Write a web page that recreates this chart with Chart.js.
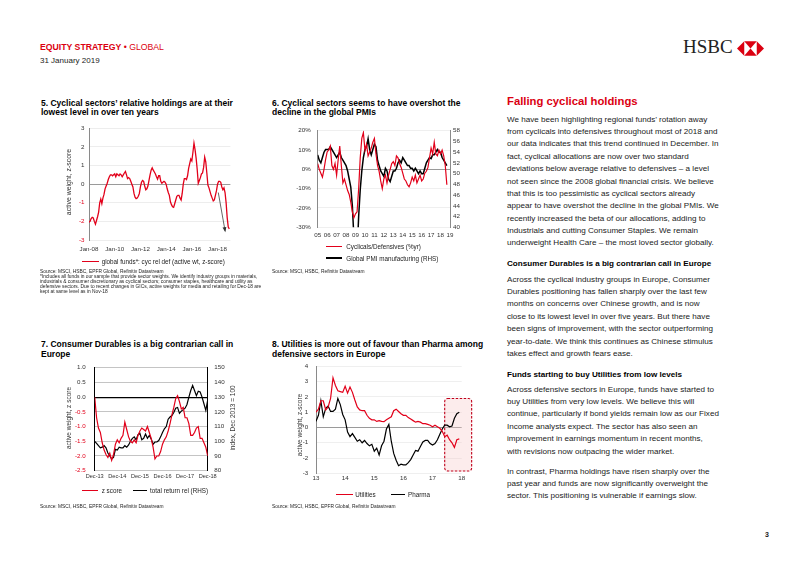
<!DOCTYPE html>
<html>
<head>
<meta charset="utf-8">
<script src="https://cdn.jsdelivr.net/npm/chart.js@4.4.0/dist/chart.umd.min.js"></script>
<style>
  body { margin: 0; width: 802px; height: 567px; position: relative; overflow: hidden; background: #fff;
         font-family: "Liberation Sans", Arial, sans-serif; color: #1a1a1a; }
  .abs { position: absolute; white-space: nowrap; }
  canvas { position: absolute; }
  .ctitle { font-weight: bold; font-size: 8.5px; line-height: 9.4px; color: #000; }
  .src { font-size: 4.85px; line-height: 4.9px; color: #222; }
  .leg { font-size: 6.3px; line-height: 7.5px; color: #222; }
  .ytitle { font-size: 6.5px; color: #333; transform: translate(-50%, -50%) rotate(-90deg); }
  .body { left: 507px; font-size: 8.1px; line-height: 12.35px; color: #222; }
  .sub { left: 507px; font-size: 8.1px; line-height: 12.35px; font-weight: bold; color: #000; }
</style>
</head>
<body>

<!-- Header -->
<div class="abs" style="left:40px;top:41.5px;font-size:8.7px;color:#db0011;"><b>EQUITY STRATEGY</b> &#8226; GLOBAL</div>
<div class="abs" style="left:40px;top:55.5px;font-size:8px;color:#222;">31 January 2019</div>
<div class="abs" style="left:683px;top:36px;font-family:'Liberation Serif','Times New Roman',serif;font-size:19px;color:#222;">HSBC</div>
<svg class="abs" style="left:737px;top:41px;" width="27" height="15" viewBox="0 0 26 14">
  <polygon points="0,7 7,0 7,14" fill="#db0011"/>
  <polygon points="26,7 19,0 19,14" fill="#db0011"/>
  <polygon points="7,0 19,0 13,7" fill="#db0011"/>
  <polygon points="7,14 19,14 13,7" fill="#db0011"/>
</svg>

<!-- Chart 5 -->
<div class="abs ctitle" style="left:41px;top:98.6px;">5. Cyclical sectors’ relative holdings are at their<br>lowest level in over ten years</div>
<canvas id="c5" width="180" height="135" style="left:60px;top:120px;width:180px;height:135px;"></canvas>
<div class="abs ytitle" style="left:68px;top:182px;font-size:6.9px;">active weight, z-score</div>
<div class="abs" style="left:81.7px;top:261px;width:17px;height:1.4px;background:#e2001a;"></div>
<div class="abs leg" style="left:101.7px;top:258px;">global funds*: cyc rel def (active wt, z-score)</div>
<div class="abs src" style="left:40px;top:270.3px;">Source: MSCI, HSBC, EPFR Global, Refinitiv Datastream<br>*Includes all funds in our sample that provide sector weights. We identify industry groups in materials,<br>industrials &amp; consumer discretionary as cyclical sectors; consumer staples, healthcare and utility as<br>defensive sectors. Due to recent changes in GICs, active weights for media and retailing for Dec-18 are<br>kept at same level as in Nov-18</div>

<!-- Chart 6 -->
<div class="abs ctitle" style="left:272px;top:98.6px;">6. Cyclical sectors seems to have overshot the<br>decline in the global PMIs</div>
<canvas id="c6" width="185" height="122" style="left:290px;top:120px;width:185px;height:122px;"></canvas>
<div class="abs" style="left:326.3px;top:246px;width:16px;height:1.4px;background:#e2001a;"></div>
<div class="abs leg" style="left:346.3px;top:243px;">Cyclicals/Defensives (%yr)</div>
<div class="abs" style="left:326.3px;top:257.3px;width:16px;height:2px;background:#000;"></div>
<div class="abs leg" style="left:346.3px;top:254.6px;">Global PMI manufacturing (RHS)</div>
<div class="abs src" style="left:272px;top:270.3px;">Source: MSCI, HSBC, Refinitiv Datastream</div>

<!-- Chart 7 -->
<div class="abs ctitle" style="left:41px;top:340.3px;">7. Consumer Durables is a big contrarian call in<br>Europe</div>
<canvas id="c7" width="160" height="130" style="left:72px;top:355px;width:160px;height:130px;"></canvas>
<div class="abs ytitle" style="left:67.5px;top:418px;">active weight, z score</div>
<div class="abs ytitle" style="left:231.7px;top:418px;">index, Dec 2013 = 100</div>
<div class="abs" style="left:81.7px;top:490px;width:16.6px;height:1.4px;background:#e2001a;"></div>
<div class="abs leg" style="left:101.7px;top:487px;">z score</div>
<div class="abs" style="left:133px;top:490px;width:13.7px;height:1.4px;background:#000;"></div>
<div class="abs leg" style="left:150px;top:487px;">total return rel (RHS)</div>
<div class="abs src" style="left:40px;top:505px;">Source: MSCI, HSBC, EPFR Global, Refinitiv Datastream</div>

<!-- Chart 8 -->
<div class="abs ctitle" style="left:272px;top:340.3px;">8. Utilities is more out of favour than Pharma among<br>defensive sectors in Europe</div>
<canvas id="c8" width="175" height="132" style="left:300px;top:355px;width:175px;height:132px;"></canvas>
<div class="abs ytitle" style="left:299px;top:425px;">active weight, z-score</div>
<div class="abs" style="left:336px;top:493.6px;width:17px;height:1.4px;background:#e2001a;"></div>
<div class="abs leg" style="left:355.3px;top:490.6px;">Utilities</div>
<div class="abs" style="left:391px;top:493.6px;width:13.7px;height:1.4px;background:#000;"></div>
<div class="abs leg" style="left:408px;top:490.6px;">Pharma</div>
<div class="abs src" style="left:272px;top:505.4px;">Source: MSCI, HSBC, EPFR Global, Refinitiv Datastream</div>

<!-- Text column -->
<div class="abs" style="left:507px;top:95px;font-size:11.3px;font-weight:bold;color:#db0011;">Falling cyclical holdings</div>
<div class="abs body" style="top:113.8px;">We have been highlighting regional funds’ rotation away<br>from cyclicals into defensives throughout most of 2018 and<br>our data indicates that this trend continued in December. In<br>fact, cyclical allocations are now over two standard<br>deviations below average relative to defensives – a level<br>not seen since the 2008 global financial crisis. We believe<br>that this is too pessimistic as cyclical sectors already<br>appear to have overshot the decline in the global PMIs. We<br>recently increased the beta of our allocations, adding to<br>Industrials and cutting Consumer Staples. We remain<br>underweight Health Care – the most loved sector globally.</div>
<div class="abs sub" style="top:258px;">Consumer Durables is a big contrarian call in Europe</div>
<div class="abs body" style="top:273.8px;">Across the cyclical industry groups in Europe, Consumer<br>Durables positioning has fallen sharply over the last few<br>months on concerns over Chinese growth, and is now<br>close to its lowest level in over five years. But there have<br>been signs of improvement, with the sector outperforming<br>year-to-date. We think this continues as Chinese stimulus<br>takes effect and growth fears ease.</div>
<div class="abs sub" style="top:368.8px;">Funds starting to buy Utilities from low levels</div>
<div class="abs body" style="top:383.8px;">Across defensive sectors in Europe, funds have started to<br>buy Utilities from very low levels. We believe this will<br>continue, particularly if bond yields remain low as our Fixed<br>Income analysts expect. The sector has also seen an<br>improvement in earnings momentum in recent months,<br>with revisions now outpacing the wider market.</div>
<div class="abs body" style="top:465.5px;">In contrast, Pharma holdings have risen sharply over the<br>past year and funds are now significantly overweight the<br>sector. This positioning is vulnerable if earnings slow.</div>

<div class="abs" style="left:765px;top:531px;font-size:7px;font-weight:bold;">3</div>

<script>
// Chart 5: global funds, cyclicals rel defensives, monthly Jan-08 .. Dec-18
const cycTickLabels = ['Jan-08', 'Jan-10', 'Jan-12', 'Jan-14', 'Jan-16', 'Jan-18'];
const cycRelDef = [
  -2.04, -2.0, -1.85, -1.78, -1.82, -2.0, -2.15, -1.95, -1.75, -1.5, -1.0, -0.8,
  -1.05, -0.75, -0.55, -0.25, -0.1, 0.05, 0.25, 0.4, 0.5, 0.5, 0.45, 0.5,
  0.55, 0.4, 0.55, 0.5, 0.45, 0.55, 0.5, 0.4, 0.5, 0.6, 0.68, 0.5,
  0.3, 0.35, 0.3, 0.15, 0.0, -0.15, -0.5, -0.7, -0.78, -0.75, -0.65, -0.5,
  -0.15, 0.1, 0.2, 0.15, -0.1, -0.3, -0.25, -0.1, 0.2, 0.5, 0.75, 0.88,
  0.75, 0.65, 0.55, 0.4, 0.27, 0.45, 0.45, 0.15, 0.05, 0.1, 0.15, 0.1,
  0.0, -0.25, -0.45, -0.6, -0.95, -1.1, -1.22, -1.25, -1.05, -0.85, -0.65, -0.6,
  -0.6, -0.75, -0.85, -0.5, 0.0, 0.3, 0.3, 0.25, 0.45, 0.85, 1.1, 1.35,
  1.25, 1.7, 2.2, 1.85, 1.4, 0.8, 0.05, 0.2, 0.35, 0.55, 0.6, 0.9,
  1.45, 1.2, 0.6, -0.05, -0.2, -0.4, -0.6, -0.75, -0.9, -0.85, -0.6, -0.35,
  0.0, 0.15, 0.15, 0.1, -0.15, -0.3, -0.2, -0.45, -1.0, -1.8, -2.3, -2.4
];
const cycArrow = { fromX: 120.7, fromY: -0.45, toX: 127, toY: -2.5 };

// Chart 6: cyclicals/defensives %yr and global PMI, every two months from Jan-05
const pmiYearLabels = ['05', '06', '07', '08', '09', '10', '11', '12', '13', '14', '15', '16', '17', '18', '19'];
const cycDefYoY = [
  3, 0, -2, -4, 0, 5, 9, 10, 12, 2, 0, 3,
  -3, 5, 12, 2, -7, -5, -8, -11, -13, -17, -22, -25,
  -23, -22, -10, 6, 16, 19, 10, 13, 7, 9, 11, 14,
  16, 8, 2, -1, -6, -10, -5, -3, -7, -3, 0, 3,
  4, 2, 7, 6, 3, 1, -2, -5, -6, -8, -9, -7,
  -4, -6, -3, -7, -5, -3, -6, -5, -2, -1, 1, 6,
  11, 8, 14, 8, 7, 10, 8, 10, 7, 2, -8
];
const globalPmi = [
  53.5, 52.5, 52, 53, 54, 54.5, 54.5, 54.5, 55, 54.5, 54, 53.5,
  53, 53.5, 54, 53, 52.5, 52, 51.5, 50.5, 49, 47.5, 44, 38,
  34, 35, 42, 47, 50.5, 53, 54.5, 55, 56.5, 54.5, 53.5, 54.5,
  55.5, 55, 52.5, 51.5, 50.5, 50, 49.5, 51, 50.5, 49, 48.5, 49.5,
  50.5, 50.5, 51, 52, 52.5, 52, 53, 52.5, 52, 51.5, 51.5, 51,
  51, 50.5, 51, 50.5, 50, 50.5, 50, 50, 51, 52, 52.5, 53,
  52.8, 53.5, 53.5, 54, 54.5, 54, 54, 53, 52.5, 52, 51.5
];

// Chart 7: Europe consumer durables, monthly Dec-13 .. Dec-18
const durTickLabels = ['Dec-13', 'Dec-14', 'Dec-15', 'Dec-16', 'Dec-17', 'Dec-18'];
const durZScore = [
  0.0, -0.7, -1.05, -1.2, -1.55, -1.8, -1.95, -2.05, -1.9, -2.15, -1.95, -1.6,
  -1.45, -1.55, -1.4, -1.3, -0.85, -1.1, -1.35, -1.5, -1.55, -1.45, -1.55, -1.3,
  -1.15, -1.05, -1.1, -1.15, -1.0, -1.2, -1.4, -1.7, -2.1, -2.0, -2.0, -1.85,
  -1.6, -1.45, -1.35, -1.15, -0.9, -0.6, -0.35, -0.05, 0.05, -0.15, -0.4, -0.35,
  -0.7, -0.7, -0.9, -1.3, -1.3, -1.2, -1.05, -1.0, -1.4, -1.4, -1.55, -1.7,
  -2.0
];
const durTotalReturn = [
  100, 98.5, 97, 95.5, 96, 97, 95.5, 92, 90, 88, 89, 94.5,
  94, 96, 95.5, 95.5, 97, 96, 97.5, 100, 102, 103, 101, 104.5,
  105.5, 101, 102, 105, 102, 104, 101.5, 98, 99.5, 99.5, 100.5, 103,
  106, 108.5, 110, 115, 116.5, 117.5, 119.5, 122.5, 123, 119, 120.5, 121.5,
  122.5, 125, 130, 134.5, 138, 134.5, 131, 134, 133.5, 130, 125.5, 121,
  128
];

// Chart 8: Europe defensives, monthly Jan-13 .. Dec-17
const defTickLabels = ['13', '14', '15', '16', '17', '18'];
const utilities = [
  1.0, 1.2, 1.75, 1.75, 1.15, 1.35, 1.9, 3.25, 2.75, 2.4, 2.35, 2.3,
  2.7, 2.25, 2.65, 2.3, 1.8, 1.35, 1.15, 1.1, 1.1, 0.8, 0.6, 0.5,
  0.5, 0.4, 0.45, 0.4, 0.38, 0.5, 0.6, 0.7, 1.1, 1.2, 1.05, 0.9,
  0.8, 0.8, 0.65, 0.55, 0.45, 0.35, 0.4, 0.35, 0.25, 0.25, 0.2, 0.15,
  0.05, 0.15, 0.05, -0.05, -0.25, -0.6, -0.5, -0.8, -1.0, -1.3, -0.8, -0.75
];
const pharma = [
  0.4, 0.8, 1.75, 0.7, 1.25, 1.4, 1.05, 1.05, 1.2, 1.9, 1.5, 0.85,
  0.5, -0.3, -0.6, -0.4, -0.65, -0.9, -0.8, -1.0, -0.85, -1.05, -1.2, -1.1,
  -1.55, -1.35, -1.8, -1.2, -0.9, -0.1, 0.2, -0.9, -1.7, -2.15, -2.5, -2.4,
  -2.45, -2.45, -2.3, -2.1, -1.8, -1.5, -1.55, -1.25, -0.95, -0.85, -0.85, -1.05,
  -1.15, -1.05, -0.8, -0.45, -0.1, 0.15, 0.15, 0.05, 0.1, 0.6, 0.9, 1.0
];
const defFocusBox = { fromX: 53, toX: 64.1, top: 1.9, bottom: -2.85 };

const RED = '#e2001a';
const FONT = { family: '"Liberation Sans", Arial, sans-serif', size: 6.2 };

const toPoints = (values, step) => values.map((v, i) => ({ x: i * step, y: v }));

// x axis with fixed tick positions and labels
const xAxis = (labels, step, min, max, height, padding, fontSize) => ({
  type: 'linear', min: min, max: max,
  afterBuildTicks: s => { s.ticks = labels.map((l, i) => ({ value: i * step })); },
  afterFit: s => { s.height = height; },
  grid: { display: false, drawTicks: false },
  border: { display: false },
  ticks: { font: Object.assign({}, FONT, { size: fontSize || FONT.size }), color: '#333',
           padding: padding, autoSkip: false, maxRotation: 0,
           callback: (v, i) => labels[i] }
});

const lineSet = (data, color, width, axis) => ({
  data: data, borderColor: color, borderWidth: width, pointRadius: 0, tension: 0,
  fill: false, yAxisID: axis || 'y'
});

const baseOptions = padding => ({
  responsive: false, animation: false, devicePixelRatio: 1,
  layout: { padding: padding },
  plugins: { legend: { display: false }, tooltip: { enabled: false } }
});

const negRed = ctx => (ctx.tick && ctx.tick.value < 0 ? RED : '#333');

// Chart 5
const arrowPlugin = {
  id: 'arrow',
  afterDatasetsDraw(chart) {
    const { ctx, scales: { x, y } } = chart;
    const x1 = x.getPixelForValue(cycArrow.fromX), y1 = y.getPixelForValue(cycArrow.fromY);
    const x2 = x.getPixelForValue(cycArrow.toX), y2 = y.getPixelForValue(cycArrow.toY);
    const a = Math.atan2(y2 - y1, x2 - x1);
    ctx.save();
    ctx.strokeStyle = '#666';
    ctx.fillStyle = '#333';
    ctx.lineWidth = 1;
    ctx.beginPath(); ctx.moveTo(x1, y1); ctx.lineTo(x2, y2); ctx.stroke();
    ctx.beginPath();
    ctx.moveTo(x2 + 1.5 * Math.cos(a), y2 + 1.5 * Math.sin(a));
    ctx.lineTo(x2 - 4 * Math.cos(a - 0.5), y2 - 4 * Math.sin(a - 0.5));
    ctx.lineTo(x2 - 4 * Math.cos(a + 0.5), y2 - 4 * Math.sin(a + 0.5));
    ctx.closePath(); ctx.fill();
    ctx.restore();
  }
};

new Chart(document.getElementById('c5'), {
  type: 'line',
  data: { datasets: [lineSet(toPoints(cycRelDef, 1), RED, 1.3)] },
  options: Object.assign(baseOptions({ top: 8.3, right: 9.6, left: 0, bottom: 0 }), {
    scales: {
      x: xAxis(cycTickLabels, 24, 0, 132, 15, 5.3),
      y: {
        min: -3, max: 3,
        ticks: { stepSize: 1, font: FONT, color: negRed, padding: 4.5 },
        afterFit: s => { s.width = 29; },
        grid: { drawTicks: false, color: ctx => (ctx.tick.value === 0 ? '#9a9a9a' : '#ededed') },
        border: { display: true, color: '#8a8a8a' }
      }
    }
  }),
  plugins: [arrowPlugin]
});

// Chart 6
new Chart(document.getElementById('c6'), {
  type: 'line',
  data: { datasets: [
    lineSet(toPoints(cycDefYoY, 2), RED, 1.2, 'y'),
    lineSet(toPoints(globalPmi, 2), '#000', 1.5, 'y2')
  ] },
  options: Object.assign(baseOptions({ top: 8.3, right: 0, left: 0, bottom: 0 }), {
    scales: {
      x: xAxis(pmiYearLabels, 12, 0, 168, 14.7, 4.2),
      y: {
        position: 'left', min: -30, max: 20,
        ticks: { stepSize: 10, font: FONT, color: '#333', padding: 7, callback: v => v + '%' },
        afterFit: s => { s.width = 27.7; },
        grid: { drawTicks: false, color: ctx => (ctx.tick.value === 0 ? '#9a9a9a' : '#efefef') },
        border: { display: true, color: '#8a8a8a' }
      },
      y2: {
        position: 'right', min: 40, max: 58,
        ticks: { stepSize: 2, font: FONT, color: '#333', padding: 3 },
        afterFit: s => { s.width = 25; },
        grid: { drawOnChartArea: false, drawTicks: false },
        border: { display: true, color: '#8a8a8a' }
      }
    }
  })
});

// Chart 7
new Chart(document.getElementById('c7'), {
  type: 'line',
  data: { datasets: [
    lineSet(toPoints(durZScore, 1), RED, 1.2, 'y'),
    lineSet(toPoints(durTotalReturn, 1), '#000', 1.2, 'y2')
  ] },
  options: Object.assign(baseOptions({ top: 7.3, right: 0, left: 0, bottom: 0 }), {
    scales: {
      x: xAxis(durTickLabels, 12, 0, 60, 14.3, 2.2, 5.6),
      y: {
        position: 'left', min: -2.5, max: 1,
        ticks: { stepSize: 0.5, font: FONT, color: negRed, padding: 9, callback: v => v.toFixed(1) },
        afterFit: s => { s.width = 22.7; },
        grid: { drawTicks: false,
                color: ctx => (ctx.tick.value === 0 ? '#000' : '#c4c4c4'),
                lineWidth: ctx => (ctx.tick.value === 0 ? 1.2 : 1) },
        border: { display: true, color: '#000' }
      },
      y2: {
        position: 'right', min: 80, max: 150,
        ticks: { stepSize: 10, font: FONT, color: '#333', padding: 6.6 },
        afterFit: s => { s.width = 24.3; },
        grid: { drawOnChartArea: false, drawTicks: false },
        border: { display: true, color: '#000' }
      }
    }
  })
});

// Chart 8
const focusBoxPlugin = {
  id: 'focusBox',
  beforeDatasetsDraw(chart) {
    const { ctx, scales: { x, y } } = chart;
    const l = x.getPixelForValue(defFocusBox.fromX), r = x.getPixelForValue(defFocusBox.toX);
    const t = y.getPixelForValue(defFocusBox.top), b = y.getPixelForValue(defFocusBox.bottom);
    const rad = 3;
    ctx.save();
    ctx.beginPath();
    ctx.moveTo(l + rad, t);
    ctx.arcTo(r, t, r, b, rad);
    ctx.arcTo(r, b, l, b, rad);
    ctx.arcTo(l, b, l, t, rad);
    ctx.arcTo(l, t, r, t, rad);
    ctx.closePath();
    ctx.fillStyle = 'rgba(246, 200, 200, 0.35)';
    ctx.fill();
    ctx.setLineDash([2.5, 1.5]);
    ctx.strokeStyle = '#c0001a';
    ctx.lineWidth = 1.1;
    ctx.stroke();
    ctx.restore();
  }
};

new Chart(document.getElementById('c8'), {
  type: 'line',
  data: { datasets: [
    lineSet(toPoints(utilities, 1), RED, 1.2),
    lineSet(toPoints(pharma, 1), '#000', 1.2)
  ] },
  options: Object.assign(baseOptions({ top: 7.3, right: 13.3, left: 0, bottom: 0 }), {
    scales: {
      x: xAxis(defTickLabels, 12, 0, 60, 13.7, 1.2),
      y: {
        min: -3, max: 4,
        ticks: { stepSize: 1, font: FONT, color: '#333', padding: 7.7 },
        afterFit: s => { s.width = 16; },
        grid: { drawTicks: false, color: ctx => (ctx.tick.value === 0 ? '#9a9a9a' : '#efefef') },
        border: { display: true, color: '#8a8a8a' }
      }
    }
  }),
  plugins: [focusBoxPlugin]
});
</script>
</body>
</html>
